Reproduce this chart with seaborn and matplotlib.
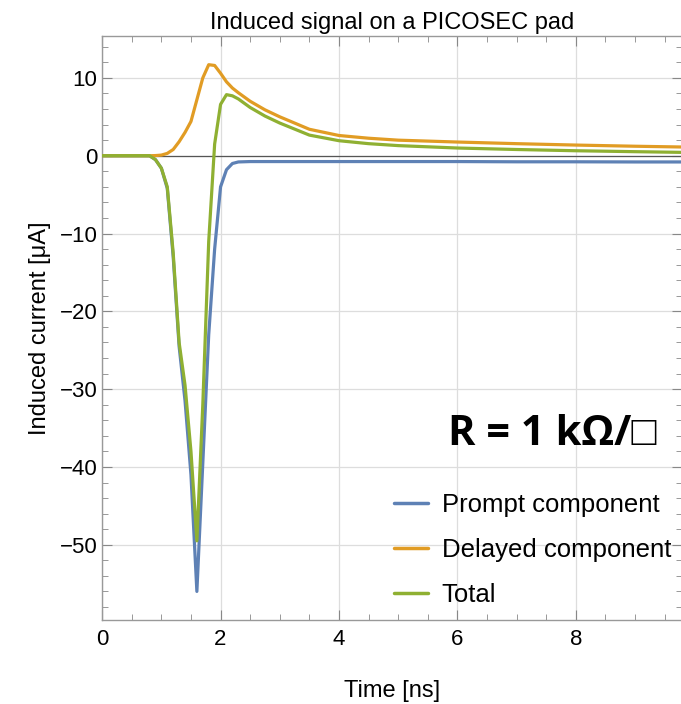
import matplotlib.pyplot as plt
import matplotlib.ticker as mticker
import numpy as np
import pandas as pd
import seaborn as sns

# time axis shared by all three series [ns]
time_ns = [0.0, 0.5, 0.8, 0.9, 1.0, 1.1, 1.2, 1.3, 1.4, 1.5, 1.6, 1.7, 1.8, 1.9,
           2.0, 2.1, 2.2, 2.3, 2.5, 2.75, 3.0, 3.5, 4.0, 4.5, 5.0, 6.0, 7.0, 8.0,
           9.0, 9.8]

# induced current [uA]
prompt = [0.0, 0.0, 0.0, -0.5, -1.6, -4.2, -13.0, -24.5, -31.5, -41.0, -56.0, -39.5,
          -23.0, -12.0, -4.0, -1.8, -1.0, -0.8, -0.75, -0.75, -0.75, -0.75, -0.75,
          -0.75, -0.75, -0.75, -0.78, -0.78, -0.8, -0.8]
delayed = [0.0, 0.0, 0.0, 0.02, 0.08, 0.3, 0.8, 1.8, 3.0, 4.4, 7.2, 10.0, 11.7, 11.6,
           10.6, 9.5, 8.7, 8.1, 7.0, 5.9, 5.0, 3.4, 2.6, 2.25, 2.0, 1.76, 1.55, 1.37,
           1.22, 1.12]
total = [0.0, 0.0, 0.0, -0.5, -1.6, -4.0, -12.5, -24.0, -29.5, -38.0, -49.5, -32.0,
         -11.0, 1.5, 6.6, 7.85, 7.7, 7.3, 6.2, 5.1, 4.2, 2.65, 1.93, 1.55, 1.3, 0.99,
         0.8, 0.64, 0.52, 0.43]

labels = ["Prompt component", "Delayed component", "Total"]
colors = ["#5E81B5", "#E19C24", "#8FB032"]

df = pd.concat([
    pd.DataFrame({"Time": time_ns, "Current": vals, "Component": lab})
    for vals, lab in zip([prompt, delayed, total], labels)
])

sns.set_theme(style="white")
plt.rcParams["font.family"] = ["Liberation Sans", "DejaVu Sans"]
plt.rcParams["text.color"] = "black"
plt.rcParams["axes.labelcolor"] = "black"
plt.rcParams["xtick.labelcolor"] = "black"
plt.rcParams["ytick.labelcolor"] = "black"

fig = plt.figure(figsize=(6.81, 7.04), dpi=100)
ax = fig.add_axes([0.150, 0.119, 0.852, 0.830])

ax.axhline(0, color="#555555", lw=0.9, zorder=1)
sns.lineplot(data=df, x="Time", y="Current", hue="Component", palette=colors,
             hue_order=labels, linewidth=2.3, ax=ax, sort=False, zorder=3)

ax.set_xlim(0, 9.8)
ax.set_ylim(-59.7, 15.4)
ax.xaxis.set_major_locator(mticker.MultipleLocator(2))
ax.xaxis.set_minor_locator(mticker.MultipleLocator(0.5))
ax.yaxis.set_major_locator(mticker.MultipleLocator(10))
ax.yaxis.set_minor_locator(mticker.MultipleLocator(2))
ax.yaxis.set_major_formatter(mticker.FuncFormatter(lambda v, p: f"{v:.0f}".replace("-", "\u2212")))
ax.grid(True, which="major", color="#dddddd", lw=0.9)
ax.set_axisbelow(True)
for s in ax.spines.values():
    s.set_color("#999999")
    s.set_linewidth(1.0)
ax.tick_params(direction="in", which="major", length=7, width=0.8, color="#888888",
               top=True, right=True, bottom=True, left=True, labelsize=16)
ax.tick_params(direction="in", which="minor", length=4, width=0.6, color="#888888",
               top=True, right=True, bottom=True, left=True)
ax.tick_params(axis="x", pad=6)

ax.set_title("Induced signal on a PICOSEC pad", fontsize=17, pad=5)
ax.set_xlabel("Time [ns]", fontsize=17, labelpad=22)
ax.set_ylabel("Induced current [\u03bcA]", fontsize=17, labelpad=6)

ax.text(0.955, 0.317, "R = 1 k\u03a9/\u25a1", transform=ax.transAxes, ha="right",
        va="center", fontsize=30, fontweight="bold",
        family=["Open Sans", "Liberation Sans", "DejaVu Sans"])

leg = ax.legend(loc="upper left", bbox_to_anchor=(0.464, 0.258), frameon=False,
                fontsize=18.5, handlelength=1.29, labelspacing=0.83, handletextpad=0.55)
for line in leg.get_lines():
    line.set_linewidth(2.5)

fig.savefig("out.png", dpi=100)
